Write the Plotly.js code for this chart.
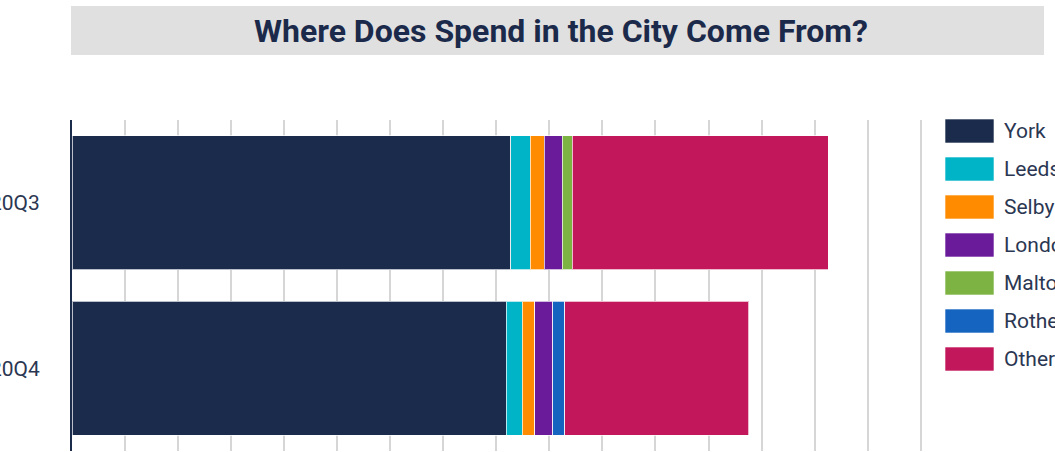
<!DOCTYPE html>
<html>
<head>
<meta charset="utf-8">
<script src="https://cdn.plot.ly/plotly-3.0.1.min.js"></script>
<style>
  html, body { margin: 0; padding: 0; background: #ffffff; }
  #chart { width: 1055px; height: 452px; }
</style>
</head>
<body>
<div id="chart"></div>
<script>
// Quarters shown on the category axis (top to bottom)
const quarters = ['2020Q3', '2020Q4'];

// Spend by origin of visitor, one value per quarter
const york      = [8.27, 8.19];
const leeds     = [0.37, 0.30];
const selby     = [0.26, 0.23];
const london    = [0.34, 0.34];
const malton    = [0.19, null];
const rotherham = [null, 0.23];
const other     = [4.83, 3.47];

const seriesNames  = ['York', 'Leeds', 'Selby', 'London', 'Malton', 'Rotherham', 'Other'];
const seriesValues = [york, leeds, selby, london, malton, rotherham, other];
const seriesColors = ['#1b2b4b', '#00b4c8', '#ff8c00', '#6a1b9a', '#7cb342', '#1565c0', '#c2185b'];

const W = 1055, H = 452;
const M = { l: 72, r: 129, t: 120, b: 1 };
const plotW = W - M.l - M.r, plotH = H - M.t - M.b;
const px2x = px => (px - M.l) / plotW;
const px2y = py => (H - M.b - py) / plotH;

const textColor = '#2b3752';

const traces = seriesNames.map((name, i) => ({
  type: 'bar',
  orientation: 'h',
  name: name,
  y: quarters,
  x: seriesValues[i],
  marker: { color: seriesColors[i], line: { color: 'rgba(255,255,255,0.7)', width: 1 } },
  showlegend: false,
  hovertemplate: name + ': %{x}<extra></extra>'
}));

// Title banner and a legend of wide colour swatches
const shapes = [{
  type: 'rect', xref: 'paper', yref: 'paper', layer: 'below',
  x0: px2x(71), x1: px2x(1044), y0: px2y(55), y1: px2y(6),
  fillcolor: '#e0e0e0', line: { width: 0 }
}];
const annotations = [];
seriesNames.forEach((name, i) => {
  const cy = 131 + 38 * i;
  shapes.push({
    type: 'rect', xref: 'paper', yref: 'paper',
    x0: px2x(945), x1: px2x(994), y0: px2y(cy + 12), y1: px2y(cy - 12),
    fillcolor: seriesColors[i], line: { color: 'rgba(255,255,255,0.6)', width: 1 }
  });
  annotations.push({
    xref: 'paper', yref: 'paper', x: px2x(1002), y: px2y(cy),
    xanchor: 'left', yanchor: 'middle', showarrow: false,
    text: name, font: { family: 'Roboto, sans-serif', size: 21, color: textColor }
  });
});

const layout = {
  width: W, height: H,
  margin: M,
  paper_bgcolor: '#ffffff', plot_bgcolor: '#ffffff',
  barmode: 'stack',
  bargap: 0.19,
  showlegend: false,
  title: {
    text: '<b>Where Does Spend in the City Come From?</b>',
    xref: 'paper', x: px2x(561), xanchor: 'center',
    yref: 'container', y: 1 - 31 / H, yanchor: 'middle',
    font: { family: 'Roboto, sans-serif', size: 32, color: '#1b2a4a' }
  },
  xaxis: {
    range: [0, 16.1], dtick: 1, tick0: 0,
    showgrid: true, gridcolor: '#d6d6d6', gridwidth: 2,
    zeroline: false, showline: false, showticklabels: false, ticks: ''
  },
  yaxis: {
    autorange: 'reversed', type: 'category',
    showline: true, linecolor: '#1b2b4b', linewidth: 2,
    showgrid: false, zeroline: false, ticks: '',
    ticklabelstandoff: 26,
    tickfont: { family: 'Roboto, sans-serif', size: 21, color: textColor }
  },
  shapes: shapes,
  annotations: annotations
};

Plotly.newPlot('chart', traces, layout, { displayModeBar: false, staticPlot: true });
</script>
</body>
</html>
